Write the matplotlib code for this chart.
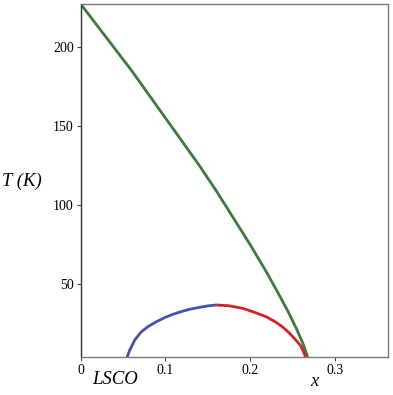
import matplotlib
matplotlib.use("Agg")
import matplotlib.pyplot as plt

# pseudogap line T*(x)
green_x = [0.0, 0.020, 0.040, 0.060, 0.080, 0.100, 0.120, 0.140, 0.160, 0.180,
           0.200, 0.220, 0.235, 0.245, 0.255, 0.262, 0.266, 0.270]
green_T = [227, 213, 199, 185, 170, 155, 140, 125, 109, 92,
           75, 57, 42.5, 32.5, 21.5, 13.0, 7.2, 0.0]

# superconducting dome, underdoped side (blue) and overdoped side (red)
blue_x = [0.052, 0.055, 0.058, 0.0639, 0.0717, 0.0795, 0.0894, 0.0992,
          0.109, 0.1188, 0.128, 0.1384, 0.150, 0.160]
blue_T = [0.0, 4.0, 8.2, 14.6, 19.8, 23.0, 26.1, 28.7,
          30.8, 32.5, 33.9, 35.0, 36.1, 36.7]

red_x = [0.160, 0.175, 0.191, 0.203, 0.219, 0.230, 0.238, 0.246, 0.254, 0.260, 0.264, 0.268]
red_T = [36.7, 36.2, 34.6, 32.5, 29.3, 26.0, 23.0, 19.2, 14.6, 10.8, 6.1, 0.0]

fig = plt.figure(figsize=(3.93, 3.95), dpi=100)
ax = fig.add_axes([0.2053, 0.0962, 0.7820, 0.8937])

ax.plot(green_x, green_T, color='#3d7a3d', lw=2.0, solid_capstyle='butt')
ax.plot(blue_x, blue_T, color='#4152b0', lw=2.0, solid_capstyle='butt')
ax.plot(red_x, red_T, color='#d42028', lw=2.0, solid_capstyle='butt')

ax.set_xlim(0, 0.363)
ax.set_ylim(3.8, 227)
ax.set_xticks([0, 0.1, 0.2, 0.3])
ax.set_xticklabels(['0', '0.1', '0.2', '0.3'])
ax.set_yticks([50, 100, 150, 200])

for s in ax.spines.values():
    s.set_color('#7a7a7a')
    s.set_linewidth(1.0)
ax.spines['left'].set_color('#333333')
ax.tick_params(direction='out', length=3, width=0.8, color='#444444',
               labelsize=10, pad=2)
for lab in ax.get_xticklabels() + ax.get_yticklabels():
    lab.set_family('Liberation Serif')

fig.text(0.292, 0.040, 'LSCO', fontsize=13.5, style='italic',
         family='Liberation Serif', ha='center', va='center')
fig.text(0.800, 0.033, 'x', fontsize=13.5, style='italic',
         family='Liberation Serif', ha='center', va='center')
fig.text(0.055, 0.540, 'T (K)', fontsize=13.5, style='italic',
         family='Liberation Serif', ha='center', va='center')

fig.savefig('out.png', dpi=100)
